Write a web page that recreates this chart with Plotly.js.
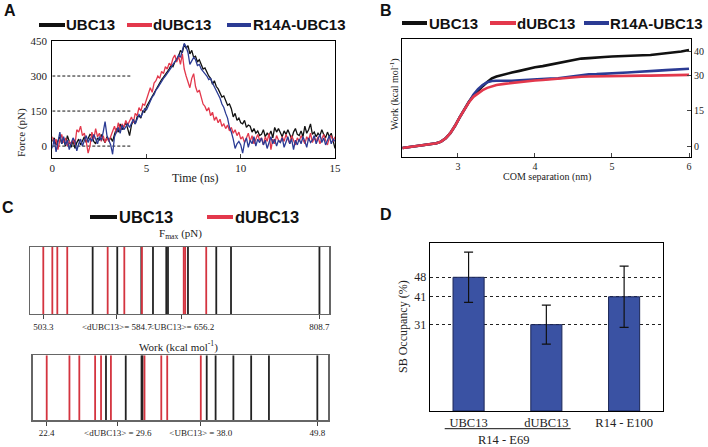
<!DOCTYPE html>
<html><head><meta charset="utf-8">
<script src="https://cdn.plot.ly/plotly-3.0.1.min.js"></script>
<style>html,body{margin:0;padding:0;background:#fff}#chart{width:708px;height:447px}</style>
</head><body><div id="chart"></div>
<script>
// ---------- Panel A: force vs time (step 0.1 ns from 0 to 15) ----------
const timeStart = 0, timeStep = 0.1;
const forceUBC13 = [20,35,5,25,40,10,30,0,45,20,-5,
 25,-10,15,30,5,20,40,15,35,50,
 45,20,10,35,25,50,30,15,40,25,
 35,20,50,75,60,95,70,85,100,75,
 45,90,110,95,125,130,120,150,145,170,
 185,200,215,225,245,255,270,285,295,305,
 320,330,345,340,360,375,385,410,400,435,
 420,430,395,410,380,385,360,370,345,330,
 335,315,300,290,265,280,255,245,230,210,
 215,190,175,180,160,125,140,110,120,100,
 95,110,80,90,85,60,75,55,65,45,
 50,70,40,55,45,65,35,80,60,75,
 55,40,65,50,70,45,30,60,75,50,
 45,65,40,85,55,70,95,50,60,40,
 55,45,70,50,35,60,40,55,25,-10];
const forceDUBC13 = [40,10,30,-15,25,50,15,35,0,20,10,
 30,5,70,60,85,45,55,20,-30,0,
 60,30,75,40,55,20,45,15,35,20,
 40,60,85,55,100,70,95,80,110,90,
 105,125,100,140,130,165,150,180,175,200,
 215,250,230,270,280,300,290,320,310,340,
 330,355,345,375,390,360,385,350,395,330,
 300,270,250,290,310,255,230,240,205,180,
 170,150,165,130,145,110,125,100,115,85,
 95,75,90,65,80,55,70,45,60,30,
 40,15,35,55,20,45,10,30,50,25,
 35,5,40,20,55,-15,30,10,45,25,
 15,40,20,50,30,10,45,25,5,35,
 20,45,30,10,40,25,55,15,35,20,
 40,10,30,50,25,5,35,45,20,40];
const forceR14A = [-10,30,-25,20,60,10,40,5,25,-15,15,
 35,20,-20,10,30,0,25,45,15,35,
 20,50,30,10,40,25,60,105,45,20,
 5,-35,40,60,80,55,90,70,85,95,
 80,100,115,95,120,135,125,145,160,155,
 175,195,210,220,240,250,265,275,290,300,
 310,325,335,350,360,370,390,380,410,440,
 425,400,350,365,380,370,345,350,330,320,
 310,300,285,290,270,255,240,220,205,180,
 165,140,120,80,60,30,-10,10,20,5,
 -30,15,35,-5,25,10,40,0,30,15,
 35,5,25,-10,20,40,10,30,0,25,
 15,35,-5,20,40,10,30,-15,25,5,
 30,10,40,20,-5,35,15,25,45,10,
 30,50,15,35,5,25,45,10,30,20];
const forceRefLevels = [0,150,300];
const forceTicks = [0,150,300,450];
const timeTicks = [0,5,10,15];

// ---------- Panel B: work vs COM separation ----------
const comSep = [2.28,2.35,2.45,2.55,2.65,2.72,2.78,2.84,2.9,2.96,3.02,3.08,3.14,3.2,3.26,3.32,3.38,3.44,3.5,3.6,3.7,3.8,3.9,4.0,4.1,4.2,4.3,4.4,4.5,4.6,4.7,4.8,4.9,5.0,5.1,5.2,5.3,5.4,5.5,5.6,5.7,5.8,5.9,6.0];
const workUBC13 = [-0.7,-0.4,0.1,0.4,0.8,1.3,2.0,3.4,5.6,8.6,12.2,15.6,18.8,21.4,23.6,25.5,27.3,28.8,29.6,30.6,31.3,32.0,32.9,33.5,34.0,34.6,35.1,35.9,36.6,37.2,37.4,37.8,37.9,38.1,38.3,38.4,38.5,38.6,38.7,39.0,39.3,39.7,40.2,40.8];
const workDUBC13 = [-0.7,-0.4,0.1,0.4,0.8,1.3,2.0,3.4,5.6,8.6,12.2,15.6,18.6,21.0,22.6,23.8,24.8,25.5,26.0,26.5,26.9,27.2,27.5,27.9,28.1,28.4,28.8,29.0,29.2,29.5,29.6,29.7,29.8,29.7,29.8,29.9,30.0,30.0,30.0,30.1,30.2,30.2,30.3,30.3];
const workR14A = [-0.7,-0.4,0.1,0.4,0.8,1.3,2.0,3.4,5.6,8.6,12.2,15.6,19.0,21.9,24.2,26.0,27.2,27.7,27.8,27.7,27.8,28.0,28.1,28.3,28.5,28.7,28.9,29.3,29.8,30.3,30.5,30.6,30.7,30.9,31.1,31.3,31.5,31.6,31.9,32.1,32.3,32.5,32.7,32.9];
const workTicks = [0,15,30,40];
const comTicks = [3,4,5,6];

// ---------- Panel C: per-run Fmax and Work values ----------
const fmaxUBC13 = [557.9,585.1,611.7,624.6,639.3,641.2,663.3,694.6,710.9,808.7];
const fmaxDUBC13 = [503.3,513.3,518.8,529.8,574.5,592.9,612.4,658.6,660.2,683.5];
const fmaxTickVals = [503.3,584.7,656.2,808.7];
const fmaxTickText = ["503.3","&lt;dUBC13&gt;= 584.7","&lt;UBC13&gt;= 656.2","808.7"];
const workRunUBC13 = [28.4,30.4,32.0,32.1,38.6,39.5,41.3,43.1,44.9,49.8];
const workRunDUBC13 = [22.4,24.7,25.7,27.3,27.9,28.9,32.3,34.0,34.6,38.0];
const workRunTickVals = [22.4,29.6,38.0,49.8];
const workRunTickText = ["22.4","&lt;dUBC13&gt; = 29.6","&lt;UBC13&gt; = 38.0","49.8"];

// ---------- Panel D: salt-bridge occupancy ----------
const sbCategories = ["UBC13","dUBC13","R14 - E100"];
const sbOccupancy = [48,31,41];
const sbError = [9,7,11];
const sbTicks = [31,41,48];

// ---------- styles ----------
const C_BLACK = "#111111", C_RED = "#e3384c", C_BLUE = "#2b3b94";
const C_RED_C = "#d4343f", C_BLACK_C = "#222222";
const serif = "Liberation Serif", sans = "Liberation Sans";

function vlines(vals){
  const x=[], y=[];
  vals.forEach(v=>{x.push(v,v,null); y.push(0,1,null);});
  return {x,y};
}

const traces = [];
// A
[[forceUBC13,C_BLACK],[forceDUBC13,C_RED],[forceR14A,C_BLUE]].forEach(([d,c])=>{
  traces.push({type:"scatter",mode:"lines",x0:timeStart,dx:timeStep,y:d,xaxis:"x",yaxis:"y",
    line:{color:c,width:1.3},hoverinfo:"skip",showlegend:false});
});
// B
[[workUBC13,C_BLACK],[workR14A,C_BLUE],[workDUBC13,C_RED]].forEach(([d,c])=>{
  traces.push({type:"scatter",mode:"lines",x:comSep,y:d,xaxis:"x2",yaxis:"y2",
    line:{color:c,width:2.6},hoverinfo:"skip",showlegend:false});
});
// C
[[fmaxUBC13,C_BLACK_C,"x3","y3"],[fmaxDUBC13,C_RED_C,"x3","y3"],
 [workRunUBC13,C_BLACK_C,"x4","y4"],[workRunDUBC13,C_RED_C,"x4","y4"]].forEach(([d,c,xa,ya])=>{
  const v=vlines(d);
  traces.push({type:"scatter",mode:"lines",x:v.x,y:v.y,xaxis:xa,yaxis:ya,
    line:{color:c,width:1.8},hoverinfo:"skip",showlegend:false});
});
// D
traces.push({type:"bar",x:sbCategories,y:sbOccupancy,xaxis:"x5",yaxis:"y5",width:0.4,
  marker:{color:"#3a52a3",line:{color:"#1b2657",width:1}},
  error_y:{type:"data",array:sbError,visible:true,color:"#111",thickness:1.2,width:4.5},
  hoverinfo:"skip",showlegend:false});

const W=708,H=447;
const px=x=>x/W, py=y=>1-y/H;

const boxAxis = (extra)=>Object.assign({showline:true,mirror:true,linecolor:"#000",linewidth:1,
  showgrid:false,zeroline:false,automargin:false,tickfont:{family:serif,size:11,color:"#222"}},extra);

const layout = {
  width:W,height:H,margin:{l:0,r:0,t:0,b:0},paper_bgcolor:"#fff",plot_bgcolor:"#fff",
  font:{family:serif,color:"#222"},
  xaxis:boxAxis({domain:[px(52.3),px(335)],range:[0,15],tickvals:timeTicks,ticks:"inside",ticklen:4,anchor:"y"}),
  yaxis:boxAxis({domain:[py(158),py(41)],range:[-51,450],tickvals:forceTicks,ticks:"",anchor:"x",ticklabelstandoff:2}),
  xaxis2:boxAxis({domain:[px(402),px(691)],range:[2.273,6.026],tickvals:comTicks,ticks:"inside",ticklen:4,anchor:"y2",tickfont:{family:serif,size:10,color:"#222"}}),
  yaxis2:boxAxis({domain:[py(157),py(39)],range:[-4.5,45.5],tickvals:workTicks,ticks:"inside",ticklen:4,side:"right",anchor:"x2",tickfont:{family:serif,size:10,color:"#222"}}),
  xaxis3:boxAxis({domain:[px(30),px(329.3)],range:[488.6,819.6],tickvals:fmaxTickVals,ticktext:fmaxTickText,tickangle:0,ticks:"outside",ticklen:4,anchor:"y3",linecolor:"#666",linewidth:1.3,tickfont:{family:serif,size:9,color:"#222"}}),
  yaxis3:boxAxis({domain:[py(314),py(247)],range:[0,1],showticklabels:false,ticks:"",anchor:"x3",linecolor:"#666",linewidth:1.3}),
  xaxis4:boxAxis({domain:[px(32.7),px(328.3)],range:[20.98,50.91],tickvals:workRunTickVals,ticktext:workRunTickText,tickangle:0,ticks:"outside",ticklen:4,anchor:"y4",linecolor:"#666",linewidth:1.3,tickfont:{family:serif,size:9,color:"#222"}}),
  yaxis4:boxAxis({domain:[py(420.3),py(355.3)],range:[0,1],showticklabels:false,ticks:"",anchor:"x4",linecolor:"#666",linewidth:1.3}),
  xaxis5:boxAxis({domain:[px(429.7),px(663)],range:[-0.5,2.5],type:"category",ticks:"",tickangle:0,anchor:"y5",tickfont:{family:serif,size:12.5,color:"#222"}}),
  yaxis5:boxAxis({domain:[py(411),py(243.3)],range:[0,60.2],tickvals:sbTicks,ticks:"",anchor:"x5",showgrid:true,gridcolor:"#222",griddash:"dot",gridwidth:1,tickfont:{family:serif,size:12,color:"#222"}}),
  shapes:[],annotations:[]
};

forceRefLevels.forEach(v=>layout.shapes.push({type:"line",xref:"x",yref:"y",x0:0,x1:4.23,y0:v,y1:v,line:{color:"#111",width:1,dash:"3px,2px"},layer:"below"}));

// legends
function legend(items,y,size){
  items.forEach(([x0,x1,tx,c,label])=>{
    layout.shapes.push({type:"line",xref:"paper",yref:"paper",x0:px(x0),x1:px(x1),y0:py(y),y1:py(y),line:{color:c,width:4}});
    layout.annotations.push({xref:"paper",yref:"paper",x:px(tx),y:py(y),xanchor:"left",yanchor:"middle",showarrow:false,
      text:"<b>"+label+"</b>",font:{family:sans,size:size,color:"#111"},borderpad:0});
  });
}
legend([[39,65,65,C_BLACK,"UBC13"],[127,152,152,C_RED,"dUBC13"],[227,251,252,C_BLUE,"R14A-UBC13"]],25,15);
legend([[402,427,428,C_BLACK,"UBC13"],[490,516,516,C_RED,"dUBC13"],[584,609,609,C_BLUE,"R14A-UBC13"]],23,15);
legend([[90,117,118,C_BLACK,"UBC13"],[207,233,234,C_RED,"dUBC13"],],217,16.5);

function ann(x,y,text,size,opts){
  layout.annotations.push(Object.assign({xref:"paper",yref:"paper",x:px(x),y:py(y),xanchor:"center",yanchor:"middle",
    showarrow:false,text:text,font:{family:serif,size:size,color:"#222"},borderpad:0},opts||{}));
}
// panel letters
[["A",10,10],["B",386,10],["C",8,208],["D",386,215]].forEach(([t,x,y])=>
  ann(x,y,"<b>"+t+"</b>",16,{font:{family:sans,size:16,color:"#111"}}));
// axis titles
ann(195,178,"Time (ns)",12);
ann(21,133,"Force (pN)",11,{textangle:-90});
ann(547,177,"COM separation (nm)",10);
ann(394,94,"Work (kcal mol<sup>-1</sup>)",10,{textangle:-90});
ann(180,234,"F<sub>max</sub> (pN)",11);
ann(178,346,"Work (kcal mol<sup>-1</sup>)",11);
ann(403,327,"SB Occupancy (%)",12,{textangle:-90});
ann(503,440,"R14 - E69",12.5);
layout.shapes.push({type:"line",xref:"x5",yref:"paper",x0:-0.307,x1:1.312,y0:py(428.7),y1:py(428.7),line:{color:"#111",width:1}});

Plotly.newPlot("chart",traces,layout,{staticPlot:true,displayModeBar:false});
</script></body></html>
